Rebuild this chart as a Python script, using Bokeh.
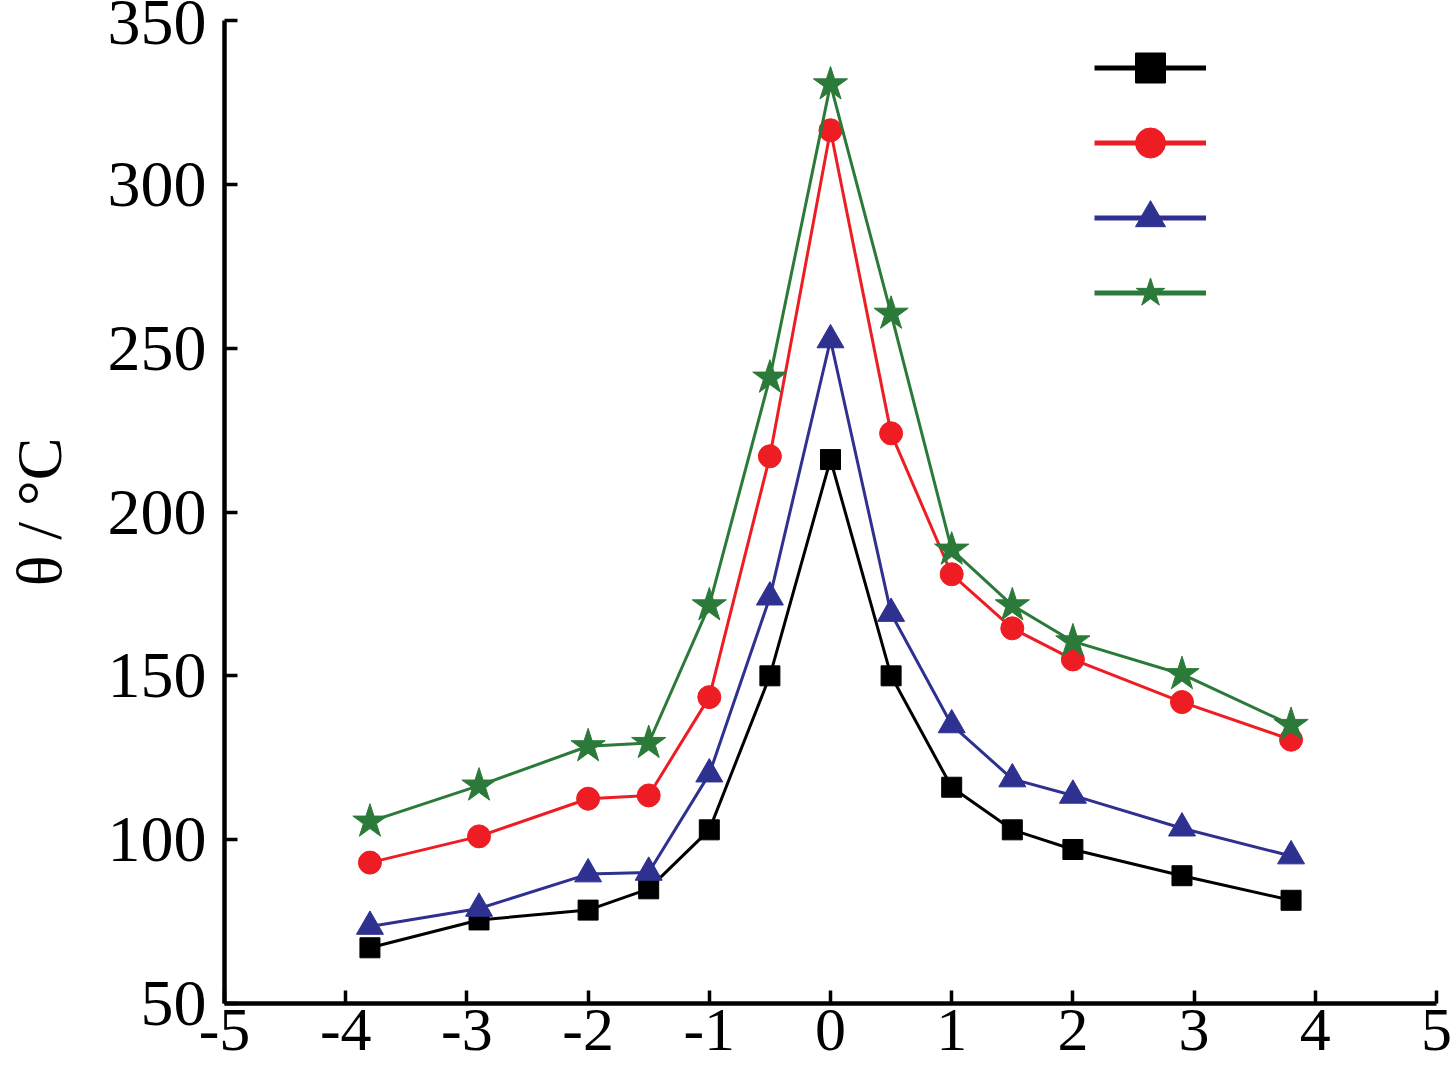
from bokeh.plotting import figure
from bokeh.models import Range1d, FixedTicker, Legend, LegendItem
from bokeh.embed import file_html
from bokeh.resources import INLINE

# Distance from the heat source (x) and measured temperature θ (°C)
x_pos = [-3.8, -2.9, -2.0, -1.5, -1.0, -0.5, 0.0, 0.5, 1.0, 1.5, 2.0, 2.9, 3.8]

temp_black = [67, 75.5, 78.5, 85, 103, 150, 216, 150, 116, 103, 97, 89, 81.5]
temp_red = [93, 101, 112.5, 113.5, 143.5, 217, 316.5, 224, 181, 164.5, 155, 142, 130.5]
temp_blue = [73.5, 79, 89.5, 90, 120, 174, 252.5, 169, 135, 118.5, 113.5, 103.5, 95]
temp_green = [105.5, 116.5, 128.5, 129.5, 171.5, 241, 330.5, 260.5, 188.5, 171.5, 160.5, 150.5, 135]

x_ticks = [-5, -4, -3, -2, -1, 0, 1, 2, 3, 4, 5]
y_ticks = [50, 100, 150, 200, 250, 300, 350]
x_tick_labels = ["-5", "-4", "-3", "-2", "-1", "0", "1", "2", "3", "4", "5"]

# name, values, colour, marker, marker size
series = [
    ("black", temp_black, "#000000", "square", 20),
    ("red", temp_red, "#ee1d23", "circle", 23),
    ("blue", temp_blue, "#2e3190", "triangle", 27),
    ("green", temp_green, "#2b7a3a", "star", 36),
]

FONT = "Liberation Serif"

p = figure(
    width=1452, height=1078,
    x_range=Range1d(-5, 5), y_range=Range1d(50, 350),
    output_backend="svg", toolbar_location=None,
    min_border_left=222, min_border_right=16,
    min_border_top=20, min_border_bottom=75,
)
p.outline_line_color = None
p.grid.visible = False
p.background_fill_color = "white"
p.border_fill_color = "white"

items = []
for name, vals, color, marker, size in series:
    p.line(x_pos, vals, line_color=color, line_width=3)
    p.scatter(x_pos, vals, marker=marker, size=size,
              fill_color=color, line_color=color, line_width=1)
    # hidden, heavier copies that only supply the key samples
    kl = p.line(x_pos, vals, line_color=color, line_width=5, visible=False)
    ks = p.scatter(x_pos, vals, marker=marker, size=size,
                   fill_color=color, line_color=color, visible=False)
    items.append(LegendItem(label=" ", renderers=[kl, ks]))

legend = Legend(
    items=items, location=(870, 673),
    glyph_width=112, glyph_height=75, spacing=0,
    label_standoff=0, label_text_font_size="10px",
    padding=0, margin=0,
    border_line_alpha=0, background_fill_alpha=0,
    inactive_fill_alpha=0,
)
p.add_layout(legend)

for ax in (p.xaxis[0], p.yaxis[0]):
    ax.axis_line_width = 4.5
    ax.axis_line_color = "black"
    ax.major_tick_line_width = 3.5
    ax.major_tick_in = 13
    ax.major_tick_out = 0
    ax.minor_tick_line_color = None
    ax.major_label_text_font = FONT
    ax.major_label_text_color = "black"

p.xaxis.ticker = FixedTicker(ticks=x_ticks)
p.xaxis.major_label_overrides = dict(zip(x_ticks, x_tick_labels))
p.xaxis.major_label_text_font_size = "62px"
p.xaxis.major_label_standoff = 6

p.yaxis.ticker = FixedTicker(ticks=y_ticks)
p.yaxis.major_label_text_font_size = "66px"
p.yaxis.major_label_standoff = 18

p.yaxis.axis_label = "θ / °C"
p.yaxis.axis_label_text_font = FONT
p.yaxis.axis_label_text_font_size = "64px"
p.yaxis.axis_label_text_font_style = "normal"
p.yaxis.axis_label_text_color = "black"
p.yaxis.axis_label_standoff = 30

open("out.html", "w").write(file_html(p, INLINE))
